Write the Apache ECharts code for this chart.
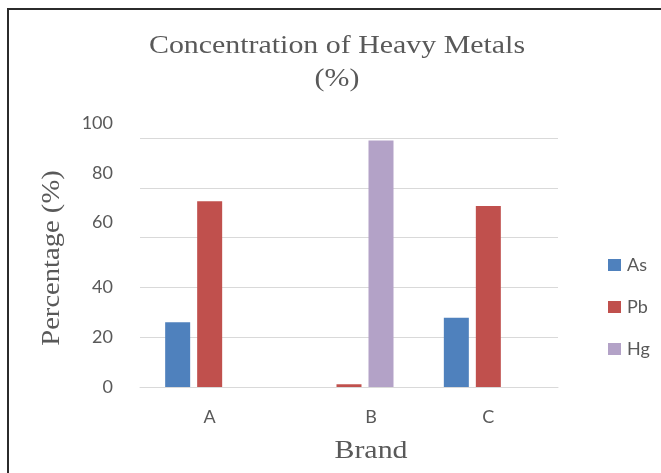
<!DOCTYPE html>
<html>
<head>
<meta charset="utf-8">
<script src="https://cdn.jsdelivr.net/npm/echarts@6/dist/echarts.min.js"></script>
<style>
  html, body { margin: 0; padding: 0; background: #fff; }
  #chart { width: 661px; height: 473px; }
</style>
</head>
<body>
<div id="chart"></div>
<script>
// Brands and measured heavy-metal shares (%)
const categories = ['A', 'B', 'C'];
const seriesNames = ['As', 'Pb', 'Hg'];
const asValues = [26, 0, 27.8];
const pbValues = [74.6, 1.1, 72.7];
const hgValues = [0, 99, 0];
const yTicks = [0, 20, 40, 60, 80, 100];

const colors = ['#4f81bd', '#c0504d', '#b3a2c7'];
const serif = '"Liberation Serif", "Times New Roman", serif';
const sans = 'Lato, "Open Sans", sans-serif';
const textGray = '#595959';

const chart = echarts.init(document.getElementById('chart'), null, { renderer: 'canvas' });

function serifText(x, y, text, rotation, stretch) {
  return {
    type: 'text',
    x: x, y: y,
    rotation: rotation || 0,
    scaleX: stretch || 1.15,
    style: {
      text: text,
      font: '26px ' + serif,
      fill: textGray,
      align: 'center',
      verticalAlign: 'middle'
    },
    silent: true
  };
}

const option = {
  backgroundColor: '#ffffff',
  animation: false,
  color: colors,
  grid: { left: 140, right: 103, top: 138, bottom: 86, containLabel: false },
  legend: {
    orient: 'vertical',
    left: 603,
    top: 251,
    itemWidth: 13,
    itemHeight: 12,
    itemGap: 24,
    icon: 'rect',
    data: seriesNames,
    textStyle: { fontFamily: sans, fontSize: 18, color: textGray, padding: [0, 0, 0, 1] }
  },
  xAxis: {
    type: 'category',
    data: categories,
    axisLine: { show: true, lineStyle: { color: '#d9d9d9', width: 1 } },
    axisTick: { show: false },
    axisLabel: {
      margin: 21,
      fontFamily: sans,
      fontSize: 18,
      color: textGray,
      formatter: function (v) { return v === 'B' ? '{s|' + v + '}' : v; },
      rich: { s: { padding: [0, 0, 0, 44], fontFamily: sans, fontSize: 18, color: textGray } }
    }
  },
  yAxis: {
    type: 'value',
    min: yTicks[0],
    max: yTicks[yTicks.length - 1],
    interval: yTicks[1] - yTicks[0],
    axisLine: { show: false },
    axisTick: { show: false },
    splitLine: { lineStyle: { color: '#d9d9d9', width: 1 } },
    axisLabel: {
      margin: 27,
      fontFamily: sans,
      fontSize: 18,
      color: textGray,
      formatter: function (v) { return v >= 60 ? '{u|' + v + '}' : String(v); },
      rich: { u: { padding: [0, 0, 30, 0], fontFamily: sans, fontSize: 18, color: textGray } }
    }
  },
  series: [
    { name: seriesNames[0], type: 'bar', data: asValues, barWidth: 25, barGap: '28%' },
    { name: seriesNames[1], type: 'bar', data: pbValues, barWidth: 25, barGap: '28%' },
    { name: seriesNames[2], type: 'bar', data: hgValues, barWidth: 25, barGap: '28%' }
  ],
  graphic: [
    {
      type: 'polyline',
      shape: { points: [[8, 473], [8, 9], [661, 9]] },
      style: { stroke: '#2b2b2b', lineWidth: 2, fill: null },
      silent: true
    },
    serifText(337, 46, 'Concentration of Heavy Metals'),
    serifText(337, 79, '(%)'),
    serifText(371, 451, 'Brand'),
    serifText(52, 258, 'Percentage (%)', Math.PI / 2, 1.1)
  ]
};

chart.setOption(option);
</script>
</body>
</html>
